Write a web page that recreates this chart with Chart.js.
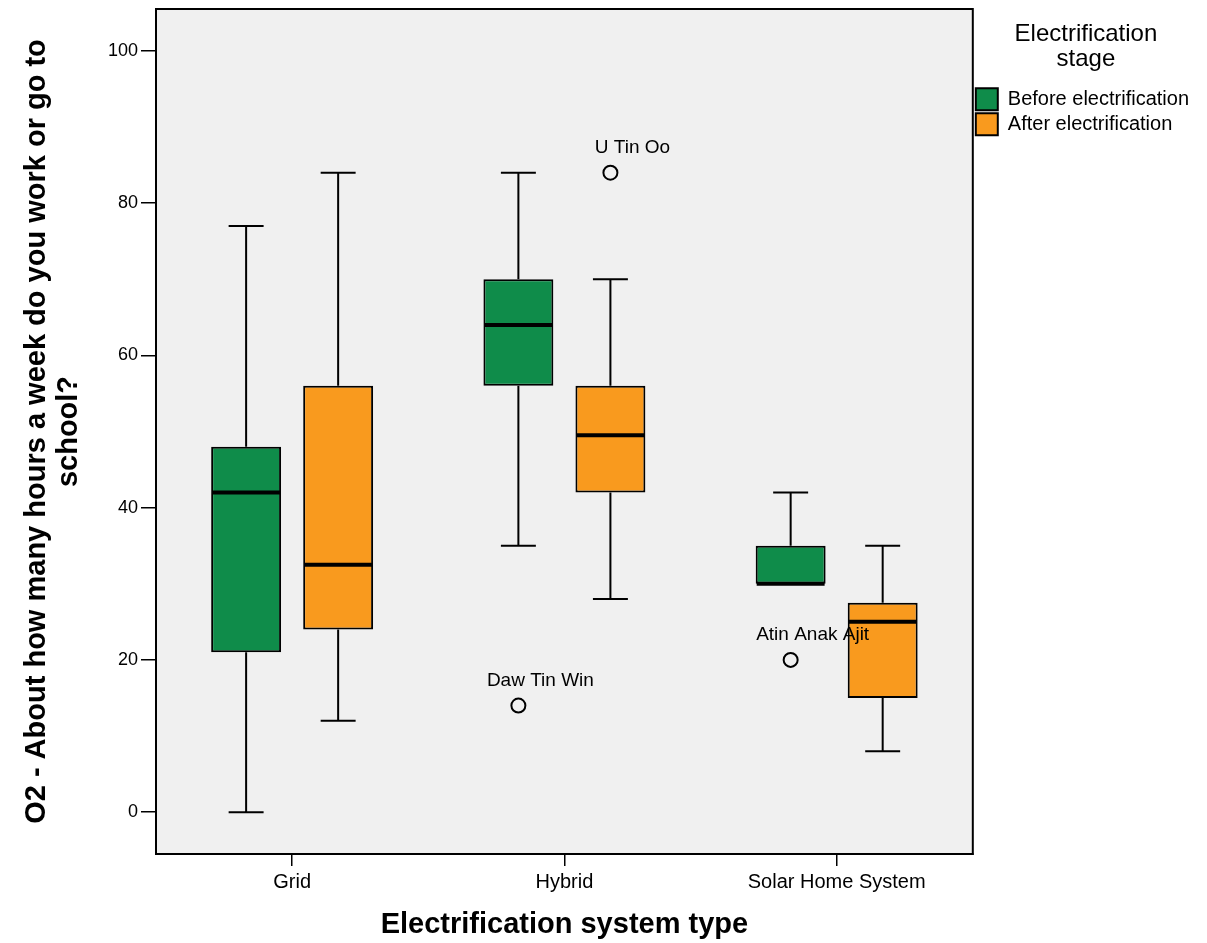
<!DOCTYPE html>
<html>
<head>
<meta charset="utf-8">
<script src="https://cdn.jsdelivr.net/npm/chart.js@4.4.1/dist/chart.umd.min.js"></script>
<style>
  html, body { margin: 0; padding: 0; background: #ffffff; }
  canvas { display: block; }
</style>
</head>
<body>
<canvas id="boxChart" width="1207" height="943"></canvas>
<script>
// Données (heures par semaine)
const categories = ['Grid', 'Hybrid', 'Solar Home System'];
const stageLabels = ['Before electrification', 'After electrification'];

const beforeMin = [0, 35, 30];
const beforeQ1 = [21, 56, 30];
const beforeMedian = [42, 64, 30];
const beforeQ3 = [48, 70, 35];
const beforeMax = [77, 84, 42];

const afterMin = [12, 28, 8];
const afterQ1 = [24, 42, 15];
const afterMedian = [32.5, 49.5, 25];
const afterQ3 = [56, 56, 27.5];
const afterMax = [84, 70, 35];

// Valeurs extrêmes : série, catégorie, valeur, nom
const outlierSeries = [0, 1, 0];
const outlierCategory = [1, 1, 2];
const outlierValues = [14, 84, 20];
const outlierNames = ['Daw Tin Win', 'U Tin Oo', 'Atin Anak Ajit'];

const yTicks = [0, 20, 40, 60, 80, 100];

const greenColor = '#0f8c4a';
const orangeColor = '#f99a1e';
const fontFamily = "'Liberation Sans', Arial, sans-serif";

const stats = [
    { min: beforeMin, q1: beforeQ1, med: beforeMedian, q3: beforeQ3, max: beforeMax },
    { min: afterMin, q1: afterQ1, med: afterMedian, q3: afterQ3, max: afterMax }
];

// Fond gris de la zone du graphique + cadre
const backgroundPlugin = {
    id: 'fondZone',
    beforeDraw(chart) {
        const { ctx, chartArea } = chart;
        ctx.save();
        ctx.fillStyle = '#ffffff';
        ctx.fillRect(0, 0, chart.width, chart.height);
        ctx.fillStyle = '#f0f0f0';
        ctx.fillRect(chartArea.left, chartArea.top, chartArea.right - chartArea.left, chartArea.bottom - chartArea.top);
        ctx.restore();
    },
    afterDraw(chart) {
        const { ctx, chartArea } = chart;
        ctx.save();
        ctx.strokeStyle = '#000000';
        ctx.lineWidth = 2;
        ctx.strokeRect(chartArea.left, chartArea.top, chartArea.right - chartArea.left, chartArea.bottom - chartArea.top);
        ctx.restore();
    }
};

// Moustaches, médianes et valeurs extrêmes
const whiskerPlugin = {
    id: 'moustaches',
    afterDatasetsDraw(chart) {
        const ctx = chart.ctx;
        const yScale = chart.scales.y;
        ctx.save();
        ctx.strokeStyle = '#000000';

        chart.data.datasets.forEach((ds, di) => {
            const meta = chart.getDatasetMeta(di);
            const s = stats[di];
            meta.data.forEach((bar, i) => {
                const x = bar.x;
                const half = bar.width / 2;
                const cap = bar.width / 4;
                const pMin = yScale.getPixelForValue(s.min[i]);
                const pQ1 = yScale.getPixelForValue(s.q1[i]);
                const pQ3 = yScale.getPixelForValue(s.q3[i]);
                const pMax = yScale.getPixelForValue(s.max[i]);
                const pMed = yScale.getPixelForValue(s.med[i]);

                ctx.lineWidth = 2;
                ctx.beginPath();
                if (s.max[i] > s.q3[i]) {
                    ctx.moveTo(x, pQ3);
                    ctx.lineTo(x, pMax);
                    ctx.moveTo(x - cap, pMax);
                    ctx.lineTo(x + cap, pMax);
                }
                if (s.min[i] < s.q1[i]) {
                    ctx.moveTo(x, pQ1);
                    ctx.lineTo(x, pMin);
                    ctx.moveTo(x - cap, pMin);
                    ctx.lineTo(x + cap, pMin);
                }
                ctx.stroke();

                ctx.lineWidth = 4;
                ctx.beginPath();
                ctx.moveTo(x - half + 1, pMed);
                ctx.lineTo(x + half - 1, pMed);
                ctx.stroke();
            });
        });

        // Points extrêmes avec leur nom
        ctx.lineWidth = 2;
        ctx.fillStyle = '#000000';
        ctx.font = '19px ' + fontFamily;
        ctx.textAlign = 'center';
        ctx.textBaseline = 'middle';
        outlierValues.forEach((v, k) => {
            const bar = chart.getDatasetMeta(outlierSeries[k]).data[outlierCategory[k]];
            const px = bar.x;
            const py = yScale.getPixelForValue(v);
            ctx.beginPath();
            ctx.arc(px, py, 7, 0, Math.PI * 2);
            ctx.stroke();
            ctx.fillText(outlierNames[k], px + 22, py - 25);
        });
        ctx.restore();
    }
};

const canvas = document.getElementById('boxChart');

new Chart(canvas, {
    type: 'bar',
    data: {
        labels: categories,
        datasets: [
            {
                label: stageLabels[0],
                data: beforeQ1.map((q, i) => [q, beforeQ3[i]]),
                backgroundColor: greenColor,
                borderColor: '#000000',
                borderWidth: 2,
                borderSkipped: false,
                categoryPercentage: 0.676,
                barPercentage: 0.76
            },
            {
                label: stageLabels[1],
                data: afterQ1.map((q, i) => [q, afterQ3[i]]),
                backgroundColor: orangeColor,
                borderColor: '#000000',
                borderWidth: 2,
                borderSkipped: false,
                categoryPercentage: 0.676,
                barPercentage: 0.76
            }
        ]
    },
    options: {
        responsive: false,
        animation: false,
        layout: {
            padding: { top: 9, left: 0, right: 8, bottom: 0 }
        },
        plugins: {
            tooltip: { enabled: false },
            legend: {
                display: true,
                position: 'right',
                align: 'start',
                title: {
                    display: true,
                    text: ['Electrification', 'stage'],
                    color: '#000000',
                    font: { family: fontFamily, size: 24, lineHeight: 1.05 },
                    // le titre sur deux lignes n'est compté que pour une ligne
                    padding: { top: 13, bottom: 38 }
                },
                labels: {
                    color: '#000000',
                    boxWidth: 22,
                    boxHeight: 22,
                    padding: 3,
                    font: { family: fontFamily, size: 20 }
                }
            }
        },
        scales: {
            x: {
                offset: true,
                grid: {
                    offset: false,
                    drawOnChartArea: false,
                    drawTicks: true,
                    tickLength: 12,
                    color: '#000000',
                    lineWidth: 1.5
                },
                border: { display: true, color: '#000000', width: 2 },
                ticks: {
                    color: '#000000',
                    padding: 4,
                    font: { family: fontFamily, size: 20 }
                },
                title: {
                    display: true,
                    text: 'Electrification system type',
                    color: '#000000',
                    font: { family: fontFamily, size: 29, weight: 'bold' },
                    padding: { top: 0, bottom: 1 }
                },
                afterFit(scale) {
                    scale.height = 89;
                }
            },
            y: {
                min: -5.5,
                max: 105.5,
                grid: {
                    drawOnChartArea: false,
                    drawTicks: true,
                    tickLength: 15,
                    color: '#000000',
                    lineWidth: 1.5
                },
                border: { display: true, color: '#000000', width: 2 },
                ticks: {
                    color: '#000000',
                    padding: 3,
                    font: { family: fontFamily, size: 18 }
                },
                afterBuildTicks(scale) {
                    scale.ticks = yTicks.map(v => ({ value: v }));
                },
                title: {
                    display: true,
                    text: ['O2 - About how many hours a week do you work or go to', 'school?'],
                    color: '#000000',
                    font: { family: fontFamily, size: 29, weight: 'bold', lineHeight: 1.1 },
                    padding: { top: 21, bottom: 0 }
                },
                afterFit(scale) {
                    scale.width = 156;
                    scale.paddingTop = 0;
                    scale.paddingBottom = 0;
                }
            }
        }
    },
    plugins: [backgroundPlugin, whiskerPlugin]
});
</script>
</body>
</html>
